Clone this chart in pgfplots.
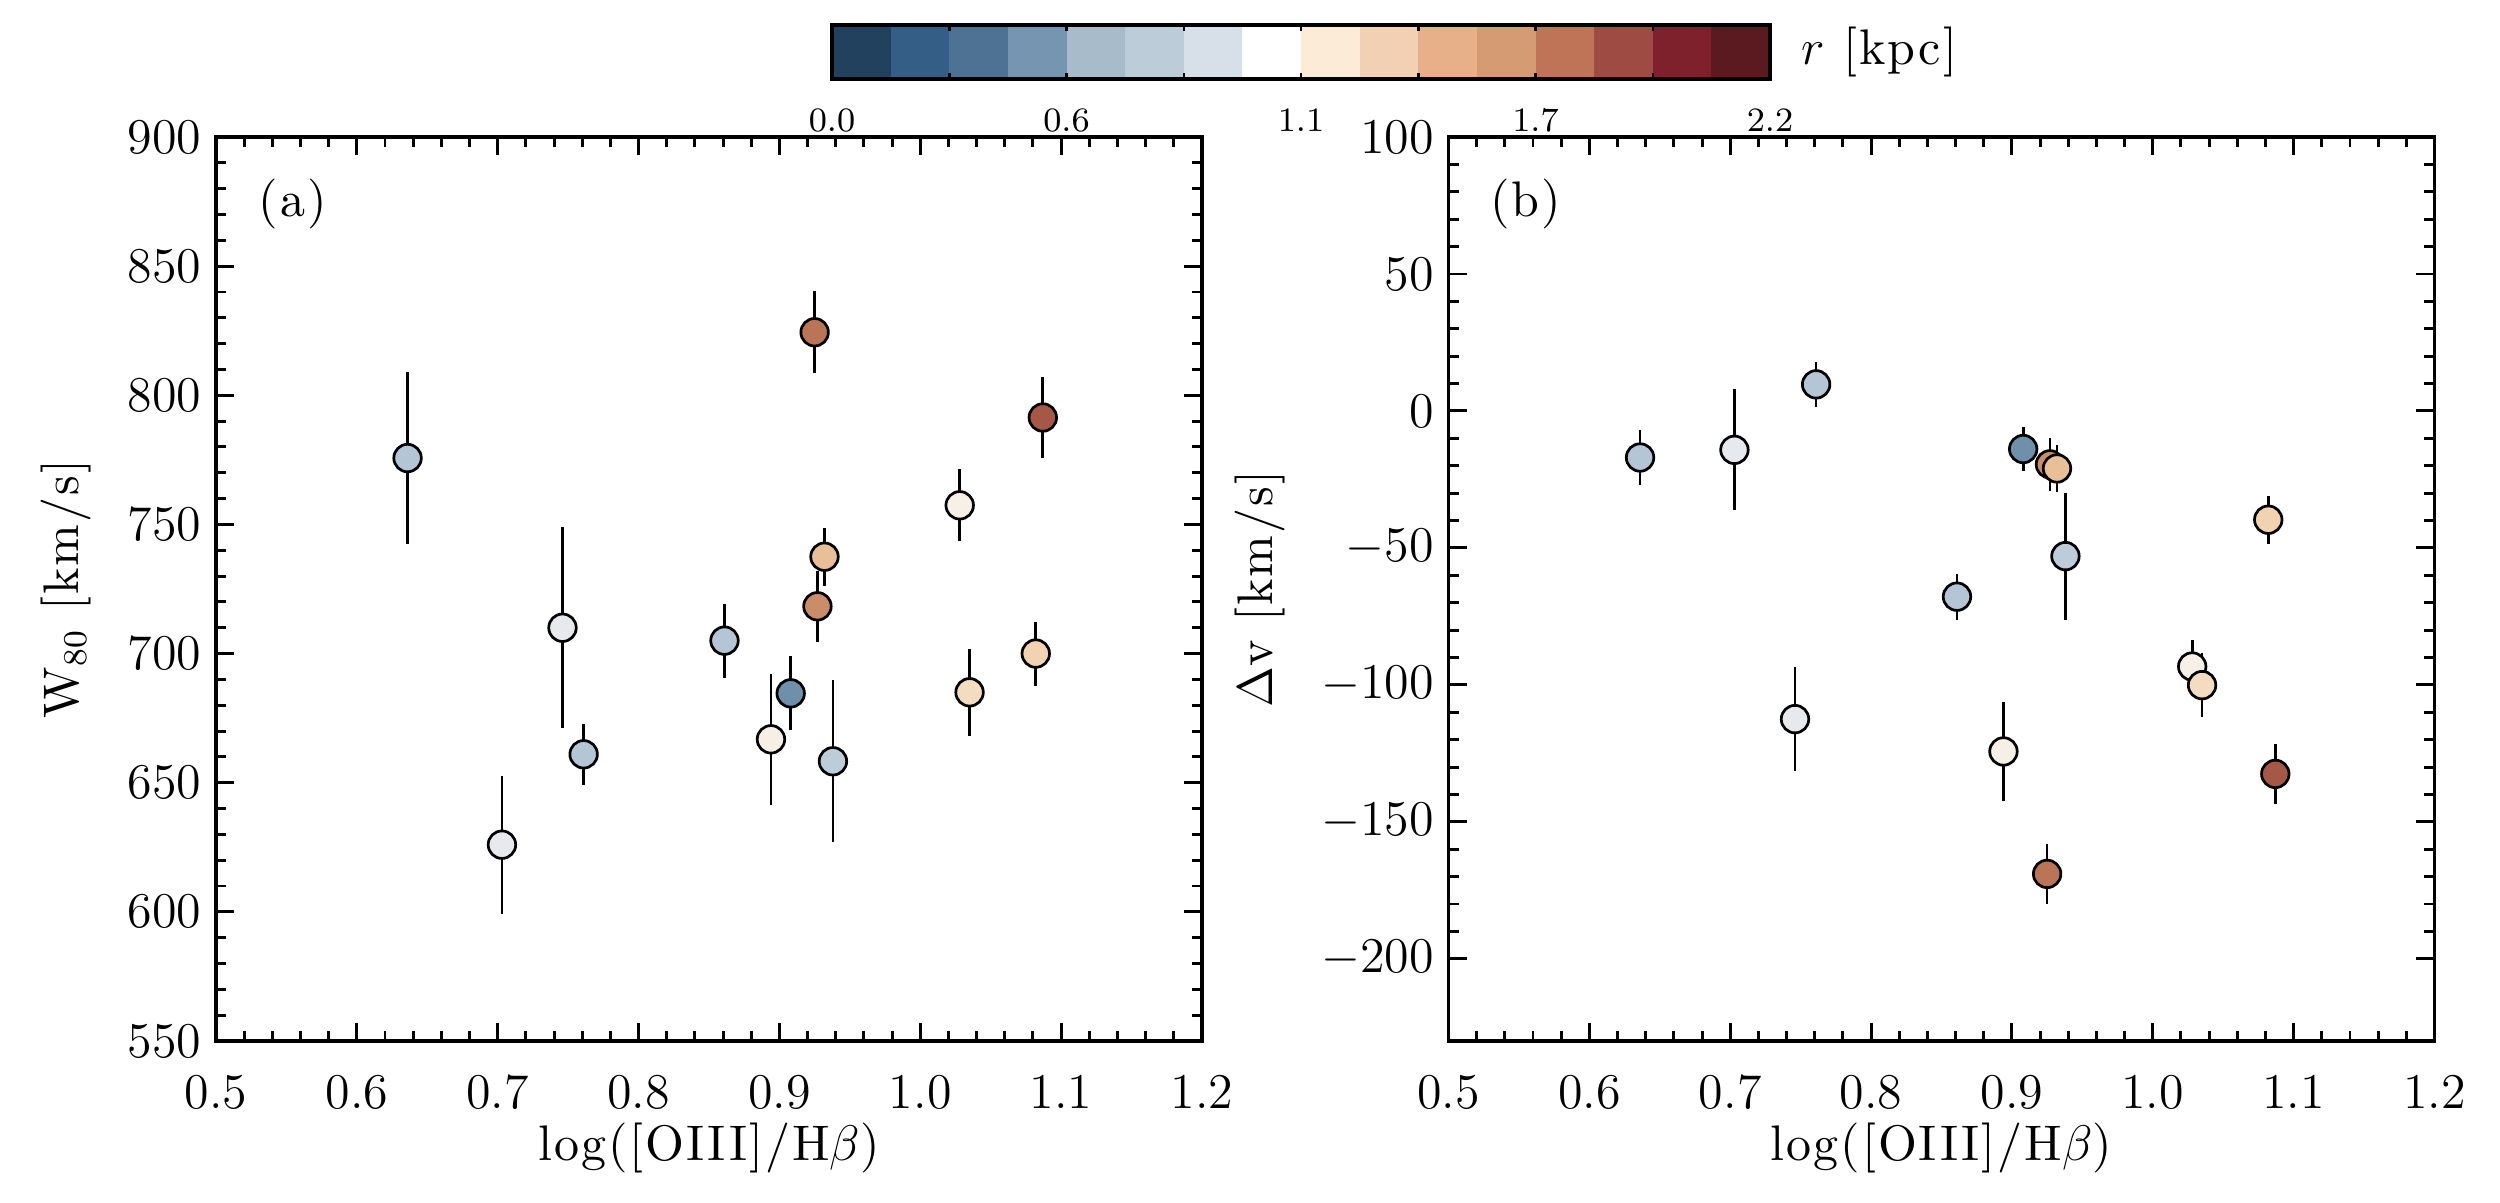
\documentclass[border=0pt]{standalone}
\usepackage{fontspec}
\usepackage{pgfplots}
\pgfplotsset{compat=1.18}
\usepackage{pgfplotstable}
\newfontfamily\lsfont{lmroman10-regular.otf}[LetterSpace=4]

% point colours
\definecolor{p1}{HTML}{B4C5D5}
\definecolor{p2}{HTML}{E6E9ED}
\definecolor{p3}{HTML}{E7E9EC}
\definecolor{p4}{HTML}{B4C5D5}
\definecolor{p5}{HTML}{B4C5D5}
\definecolor{p6}{HTML}{F6EFE6}
\definecolor{p7}{HTML}{6F8FAB}
\definecolor{p8}{HTML}{B97555}
\definecolor{p9}{HTML}{CB8D69}
\definecolor{p10}{HTML}{E8BF97}
\definecolor{p11}{HTML}{BDCCD9}
\definecolor{p12}{HTML}{F7F0E7}
\definecolor{p13}{HTML}{F3DCBF}
\definecolor{p14}{HTML}{F1D2B1}
\definecolor{p15}{HTML}{A55846}
% colour bar
\definecolor{cb1}{HTML}{21415F}
\definecolor{cb2}{HTML}{355E86}
\definecolor{cb3}{HTML}{4E7293}
\definecolor{cb4}{HTML}{7695B0}
\definecolor{cb5}{HTML}{A8BBCB}
\definecolor{cb6}{HTML}{BDCCD9}
\definecolor{cb7}{HTML}{D7E0E9}
\definecolor{cb8}{HTML}{FFFFFF}
\definecolor{cb9}{HTML}{FCECD7}
\definecolor{cb10}{HTML}{F2D0B3}
\definecolor{cb11}{HTML}{E8B088}
\definecolor{cb12}{HTML}{D59B73}
\definecolor{cb13}{HTML}{BF7357}
\definecolor{cb14}{HTML}{9E4B43}
\definecolor{cb15}{HTML}{7F212D}
\definecolor{cb16}{HTML}{5B1920}

\pgfplotstableread{
x     ya    eya   yb     eyb   c
0.636 775.7 33.3  -17.0  10.2  p1
0.703 626.0 26.7  -14.2  22.1  p2
0.746 710.0 38.9  -112.5 19.0  p3
0.761 661.0 11.7  9.7    8.3   p4
0.861 705.0 14.3  -67.8  8.4   p5
0.894 666.8 25.3  -124.3 18.0  p6
0.908 684.6 14.3  -13.9  8.2   p7
0.925 824.4 15.8  -169.0 11.0  p8
0.927 718.3 13.8  -19.5  9.6   p9
0.932 737.5 11.3  -21.0  8.5   p10
0.938 658.3 31.3  -53.0  23.2  p11
1.028 757.4 13.9  -93.3  9.7   p12
1.035 685.0 16.9  -100.1 11.7  p13
1.082 700.0 12.4  -39.7  8.7   p14
1.087 791.4 15.7  -132.5 11.0  p15
}\datatab

\newcommand{\fs}{\fontsize{11.6}{13.5}\selectfont}
\newcommand{\lfs}{\lsfont\fontsize{12}{14}\selectfont}

\pgfplotsset{
  panel/.style={
    scale only axis, width=236.64pt, height=216.96pt,
    xmin=0.5, xmax=1.2,
    xtick={0.5,0.6,0.7,0.8,0.9,1.0,1.1,1.2},
    minor x tick num=4, minor y tick num=4,
    xticklabel style={/pgf/number format/fixed, /pgf/number format/fixed zerofill, /pgf/number format/precision=1, yshift=-5pt},
    tick align=inside,
    major tick length=4.4pt, minor tick length=2.4pt,
    tick style={black, line width=0.7pt},
    axis line style={line width=0.8pt},
    every tick label/.append style={font=\fs},
    label style={font=\lfs},
    xlabel={log([OIII]/H$\beta$)},
    xlabel style={at={(axis description cs:0.5,-0.118)}, anchor=center},
  },
  pts/.style={
    scatter, only marks, mark=*, mark size=3.3pt,
    mark options={draw=black, line width=0.65pt},
    scatter src=explicit symbolic,
    scatter/classes={
      p1={fill=p1}, p2={fill=p2}, p3={fill=p3}, p4={fill=p4}, p5={fill=p5},
      p6={fill=p6}, p7={fill=p7}, p8={fill=p8}, p9={fill=p9}, p10={fill=p10},
      p11={fill=p11}, p12={fill=p12}, p13={fill=p13}, p14={fill=p14}, p15={fill=p15}},
    error bars/.cd, y dir=both, y explicit, error mark=none,
    error bar style={black, line width=0.65pt},
  },
}

\begin{document}
\begin{tikzpicture}
\path[use as bounding box] (0,0) rectangle (600pt,288.72pt);

% panel (a)
\begin{axis}[panel, at={(51.84pt,38.88pt)}, anchor=south west,
  ymin=550, ymax=900, ytick={550,600,650,700,750,800,850,900},
  ylabel={W$_{80}$ [km/s]},
  ylabel style={at={(axis description cs:-0.152,0.5)}, anchor=center}]
\addplot[pts] table[x=x, y=ya, y error=eya, meta=c] {\datatab};
\node[font=\lfs] at (rel axis cs:0.078,0.926) {(a)};
\end{axis}

% panel (b)
\begin{axis}[panel, at={(347.64pt,38.88pt)}, anchor=south west,
  ymin=-230, ymax=100, ytick={-200,-150,-100,-50,0,50,100},
  ylabel={$\Delta$v [km/s]},
  ylabel style={at={(axis description cs:-0.191,0.5)}, anchor=center}]
\addplot[pts] table[x=x, y=yb, y error=eyb, meta=c] {\datatab};
\node[font=\lfs] at (rel axis cs:0.078,0.926) {(b)};
\end{axis}

% colour bar
\begin{axis}[at={(199.68pt,269.76pt)}, anchor=south west,
  scale only axis, width=225.12pt, height=12.96pt,
  xmin=0, xmax=2.2, ymin=0, ymax=1, ytick=\empty,
  xtick={0,0.275,0.55,0.825,1.1,1.375,1.65,1.925,2.2},
  xticklabels={0.0,,0.6,,1.1,,1.7,,2.2},
  tick align=inside, major tick length=1.5pt,
  tick style={black, line width=0.6pt},
  axis on top, axis line style={line width=0.8pt},
  xticklabel style={font=\fontsize{8.2}{10}\selectfont, yshift=-3.5pt},
  xlabel={$r$ [kpc]},
  xlabel style={at={(axis description cs:1,0.5)}, anchor=west, xshift=4pt, font=\lfs}]
\addplot[fill=cb1, draw=none] coordinates {(0,1) (0.1375,1)} \closedcycle;
\addplot[fill=cb2, draw=none] coordinates {(0.1375,1) (0.275,1)} \closedcycle;
\addplot[fill=cb3, draw=none] coordinates {(0.275,1) (0.4125,1)} \closedcycle;
\addplot[fill=cb4, draw=none] coordinates {(0.4125,1) (0.55,1)} \closedcycle;
\addplot[fill=cb5, draw=none] coordinates {(0.55,1) (0.6875,1)} \closedcycle;
\addplot[fill=cb6, draw=none] coordinates {(0.6875,1) (0.825,1)} \closedcycle;
\addplot[fill=cb7, draw=none] coordinates {(0.825,1) (0.9625,1)} \closedcycle;
\addplot[fill=cb8, draw=none] coordinates {(0.9625,1) (1.1,1)} \closedcycle;
\addplot[fill=cb9, draw=none] coordinates {(1.1,1) (1.2375,1)} \closedcycle;
\addplot[fill=cb10, draw=none] coordinates {(1.2375,1) (1.375,1)} \closedcycle;
\addplot[fill=cb11, draw=none] coordinates {(1.375,1) (1.5125,1)} \closedcycle;
\addplot[fill=cb12, draw=none] coordinates {(1.5125,1) (1.65,1)} \closedcycle;
\addplot[fill=cb13, draw=none] coordinates {(1.65,1) (1.7875,1)} \closedcycle;
\addplot[fill=cb14, draw=none] coordinates {(1.7875,1) (1.925,1)} \closedcycle;
\addplot[fill=cb15, draw=none] coordinates {(1.925,1) (2.0625,1)} \closedcycle;
\addplot[fill=cb16, draw=none] coordinates {(2.0625,1) (2.2,1)} \closedcycle;
\end{axis}
\end{tikzpicture}
\end{document}
